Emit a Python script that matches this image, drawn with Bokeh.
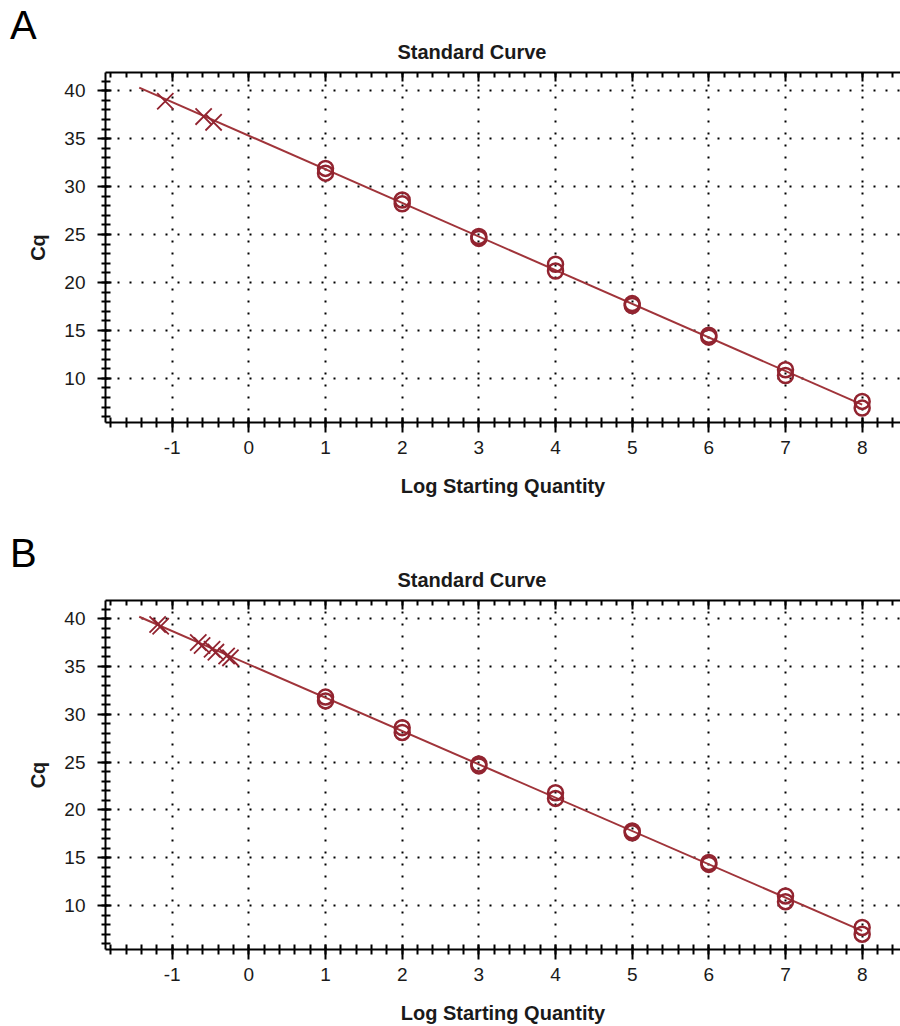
import numpy as np
from bokeh.plotting import figure
from bokeh.models import LinearAxis, Range1d, Title, FixedTicker, CustomJSTickFormatter, Div
from bokeh.layouts import column
from bokeh.embed import file_html
from bokeh.resources import INLINE

# ---- data ----
x_ticks = [-1, 0, 1, 2, 3, 4, 5, 6, 7, 8]
x_minor = [round(v, 1) for v in np.arange(-1.8, 8.5, 0.2)]
y_ticks = [10, 15, 20, 25, 30, 35, 40]
y_minor = list(range(6, 42))

std_x_a = [1, 1, 2, 2, 3, 3, 4, 4, 5, 5, 6, 6, 7, 7, 8, 8]
std_cq_a = [31.9, 31.4, 28.6, 28.2, 24.8, 24.6, 21.9, 21.2, 17.8, 17.6, 14.5, 14.3, 10.9, 10.3, 7.6, 6.9]
unk_x_a = [-1.09, -0.59, -0.46]
unk_cq_a = [38.9, 37.3, 36.7]

std_x_b = [1, 1, 2, 2, 3, 3, 4, 4, 5, 5, 6, 6, 7, 7, 8, 8]
std_cq_b = [31.8, 31.4, 28.6, 28.1, 24.8, 24.6, 21.8, 21.2, 17.8, 17.6, 14.5, 14.3, 11.0, 10.4, 7.7, 7.0]
unk_x_b = [-1.19, -1.15, -0.66, -0.61, -0.48, -0.43, -0.29, -0.24]
unk_cq_b = [39.4, 39.2, 37.5, 37.2, 36.8, 36.5, 36.1, 35.9]

fit_x = [-1.43, 8.0]

LINE_C = "#a0343a"
MARK_C = "#922430"
FONT = "Liberation Sans"

X0, X1 = -1.87, 8.5
Y0, Y1 = 5.4, 41.9
DIV_H = 29


def make_panel(std_x, std_cq, unk_x, unk_cq, height, bottom):
    p = figure(width=900, height=height, x_range=Range1d(X0, X1), y_range=Range1d(Y0, Y1),
               output_backend="svg", toolbar_location=None, title=None,
               min_border_left=105, min_border_right=0, min_border_top=71 - DIV_H,
               min_border_bottom=bottom,
               outline_line_color=None, background_fill_color="white", border_fill_color=None)

    # axes
    xa = p.xaxis[0]
    xa.ticker = FixedTicker(ticks=x_ticks, minor_ticks=x_minor)
    ya = p.yaxis[0]
    ya.ticker = FixedTicker(ticks=y_ticks, minor_ticks=y_minor)
    for ax in (xa, ya):
        ax.formatter = CustomJSTickFormatter(code="return String(tick)")
        ax.axis_line_width = 2
        ax.axis_line_color = "black"
        ax.major_tick_line_width = 2
        ax.minor_tick_line_width = 2
        ax.major_tick_line_color = "black"
        ax.minor_tick_line_color = "black"
        ax.major_label_text_font = FONT
        ax.major_label_text_font_size = "19px"
        ax.major_label_text_color = "#1a1a1a"
        ax.axis_label_text_font = FONT
        ax.axis_label_text_font_size = "20px"
        ax.axis_label_text_font_style = "bold"
        ax.axis_label_text_color = "#1a1a1a"
    xa.axis_label = "Log Starting Quantity"
    ya.axis_label = "Cq"
    xa.major_tick_in, xa.major_tick_out = 5, 10
    xa.minor_tick_in, xa.minor_tick_out = 5, 5
    xa.major_label_standoff = 8
    xa.axis_label_standoff = 18
    ya.major_tick_in, ya.major_tick_out = 6, 8
    ya.minor_tick_in, ya.minor_tick_out = 5, 4
    ya.major_label_standoff = 12
    ya.axis_label_standoff = 12

    top = LinearAxis(ticker=FixedTicker(ticks=x_ticks, minor_ticks=x_minor),
                     formatter=CustomJSTickFormatter(code="return ''"),
                     major_tick_in=9, major_tick_out=0, minor_tick_in=5, minor_tick_out=0,
                     axis_line_width=2, major_tick_line_width=2, minor_tick_line_width=2,
                     major_label_standoff=0, major_label_text_font_size="1px")
    p.add_layout(top, "above")

    # grid
    p.xgrid.ticker = FixedTicker(ticks=x_ticks)
    p.ygrid.ticker = FixedTicker(ticks=y_ticks)
    for g in (p.xgrid, p.ygrid):
        g.grid_line_color = "black"
        g.grid_line_width = 2
        g.grid_line_dash = "2 10"

    # fit line from standards
    slope, intercept = np.polyfit(std_x, std_cq, 1)
    fit_y = [intercept + slope * v for v in fit_x]
    p.line(fit_x, fit_y, line_color=LINE_C, line_width=2)
    p.scatter(std_x, std_cq, marker="circle", size=15, fill_color=None,
              line_color=MARK_C, line_width=2.5)
    p.scatter(unk_x, unk_cq, marker="x", size=23, line_color=MARK_C, line_width=1.8)

    p.add_layout(Title(text="Standard Curve", align="left", offset=292, text_font=FONT,
                       text_font_size="20px", text_font_style="bold", text_color="#1a1a1a",
                       standoff=19), "above")
    return p


def letter_div(letter):
    return Div(text=letter, width=60, height=DIV_H, margin=(0, 0, 0, 10),
               styles={"font-family": FONT, "font-size": "40px", "line-height": "50px",
                       "color": "black", "overflow": "visible"})


pA = make_panel(std_x_a, std_cq_a, unk_x_a, unk_cq_a, 528 - DIV_H, 106)
pB = make_panel(std_x_b, std_cq_b, unk_x_b, unk_cq_b, 498 - DIV_H, 76)

layout = column(letter_div("A"), pA, letter_div("B"), pB, spacing=0)
open("out.html", "w").write(file_html(layout, INLINE))
